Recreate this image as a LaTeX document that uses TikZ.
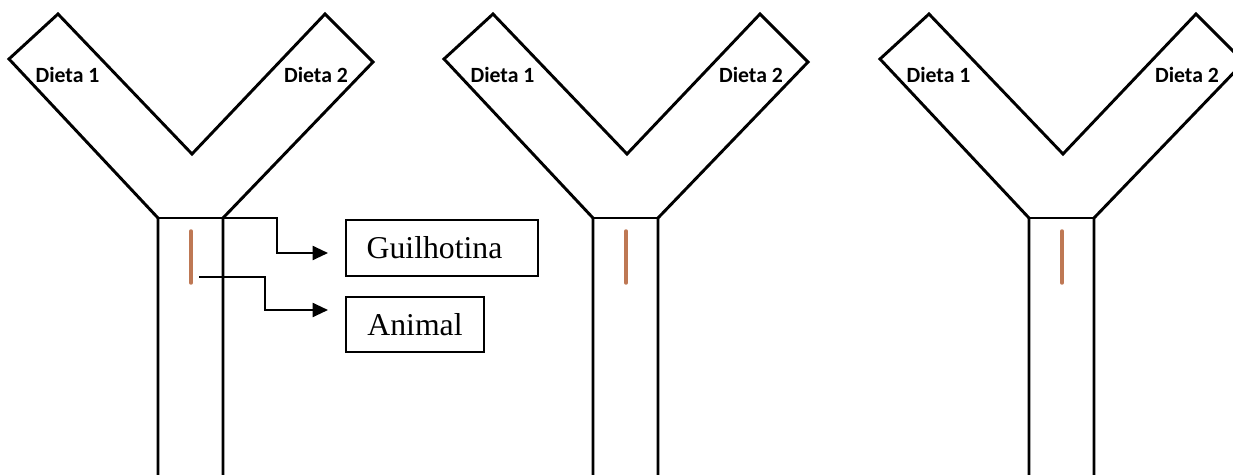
\documentclass[tikz,border=0pt]{standalone}
\usepackage{fontspec}
\setmainfont{Liberation Serif}
\newfontfamily\dietafont{Carlito}
\usetikzlibrary{arrows.meta}
\definecolor{rodbrown}{RGB}{190,120,84}
\begin{document}
\begin{tikzpicture}[x=0.75pt,y=-0.75pt,
  wall/.style={line width=2.2pt, line join=miter},
  rod/.style={rodbrown, line width=2.6pt, line cap=round},
  diet/.style={font=\dietafont\bfseries\fontsize{16.3}{18}\selectfont, inner sep=0pt},
  labelbox/.style={draw, line width=1.4pt, font=\fontsize{23.8}{26}\selectfont, inner ysep=0pt},
  conn/.style={line width=1.5pt, -{Triangle[length=11.5pt,width=10.5pt]}}]
\useasboundingbox (0,0) rectangle (1233,475);
\clip (0,0) rectangle (1233,475);
\foreach \ox/\i in {0/1,435/2,871/3}{
  \begin{scope}[shift={(\ox,0)}]
    \coordinate (s\i-bl) at (158,475);
    \coordinate (s\i-tl) at (158,218);
    \coordinate (a\i-l)  at (9,59);
    \coordinate (a\i-lt) at (58,14);
    \coordinate (v\i)    at (192,154);
    \coordinate (a\i-rt) at (325,14);
    \coordinate (a\i-r)  at (373,62);
    \coordinate (s\i-tr) at (223,218);
    \coordinate (s\i-br) at (223,475);
    \draw[wall] (s\i-bl) -- (s\i-tl) -- (a\i-l) -- (a\i-lt) -- (v\i) -- (a\i-rt) -- (a\i-r) -- (s\i-tr) -- (s\i-br);
    \draw[wall] (s\i-tl) -- (s\i-tr);
    \coordinate (r\i-t) at (191,231);
    \coordinate (r\i-b) at (191,283);
    \draw[rod] (r\i-t) -- (r\i-b);
    \node[diet] (d\i-1) at (67.5,74.5) {Dieta 1};
    \node[diet] (d\i-2) at (316,74.5) {Dieta 2};
  \end{scope}
}
\node[labelbox, minimum height=42pt, inner xsep=15.5pt, text width=113pt, align=left] (guil) at (442,248) {Guilhotina};
\node[labelbox, minimum height=41.25pt, minimum width=103.5pt] (anim) at (415,324.5) {Animal};
\coordinate (gtip) at (328,253);
\coordinate (astart) at (199,277);
\coordinate (atip) at (328,310);
\draw[conn] (s1-tr) -- ++(54,0) |- (gtip);
\draw[conn] (astart) -- ++(66,0) |- (atip);
\end{tikzpicture}
\end{document}
